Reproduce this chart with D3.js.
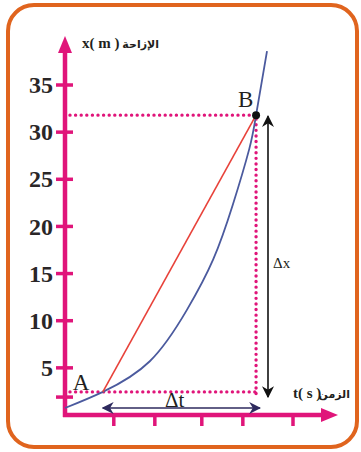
<!DOCTYPE html>
<html>
<head>
<meta charset="utf-8">
<script src="https://cdn.jsdelivr.net/npm/d3@7"></script>
<style>
  body { margin: 0; background: #fff; }
  svg { display: block; }
</style>
</head>
<body>
<div id="chart"></div>
<script>
// values
var yTicks = [5, 10, 15, 20, 25, 30, 35];
var yExtraTick = [1.9];
var tTicks = [1.07, 1.97, 3.0, 3.9, 5.0];
var curveT = [0, 0.83, 1.86, 2.68, 3.25, 3.68, 4.04, 4.19, 4.43];
var curveX = [0.74, 2.45, 5.7, 11.2, 16.5, 22.3, 28.2, 31.8, 38.6];
var pointA = { name: "A", t: 0.83, x: 2.45 };
var pointB = { name: "B", t: 4.19, x: 31.8 };

var width = 361, height = 452;
var pink = "#e0157a", blue = "#4b5a9e", red = "#e8423a", ink = "#231f20";

var svg = d3.select("#chart").append("svg")
  .attr("width", width)
  .attr("height", height);

// frame
svg.append("rect")
  .attr("x", 8).attr("y", 5)
  .attr("width", 349).attr("height", 442)
  .attr("rx", 26).attr("ry", 26)
  .attr("fill", "none")
  .attr("stroke", "#e0641e")
  .attr("stroke-width", 4);

var x = d3.scaleLinear().domain([0, 5]).range([65, 293]);
var y = d3.scaleLinear().domain([0, 35]).range([415, 85]);

// dotted guides
function dotted(x1, y1, x2, y2) {
  svg.append("line")
    .attr("x1", x1).attr("y1", y1).attr("x2", x2).attr("y2", y2)
    .attr("stroke", pink)
    .attr("stroke-width", 3.4)
    .attr("stroke-linecap", "round")
    .attr("stroke-dasharray", "0 5.6");
}
dotted(70, y(pointB.x), x(pointB.t), y(pointB.x));
dotted(x(pointB.t), y(pointB.x) + 4, x(pointB.t), 398);
dotted(70, y(pointA.x), x(pointB.t), y(pointA.x));

// axes
svg.append("line")
  .attr("x1", x(0)).attr("y1", 417).attr("x2", x(0)).attr("y2", 50)
  .attr("stroke", pink).attr("stroke-width", 4.5);
svg.append("path")
  .attr("d", "M" + x(0) + ",36 L" + (x(0) + 7) + ",53 L" + (x(0) - 7) + ",53 Z")
  .attr("fill", pink);
svg.append("line")
  .attr("x1", x(0) - 2).attr("y1", y(0)).attr("x2", 324).attr("y2", y(0))
  .attr("stroke", pink).attr("stroke-width", 4.5);
svg.append("path")
  .attr("d", "M338," + y(0) + " L321," + (y(0) - 7) + " L321," + (y(0) + 7) + " Z")
  .attr("fill", pink);

var yAxis = d3.axisLeft(y).tickValues(yTicks).tickSize(0).tickPadding(12);
var gy = svg.append("g")
  .attr("transform", "translate(" + x(0) + ",0)")
  .call(yAxis);
gy.select(".domain").remove();
gy.selectAll(".tick text")
  .attr("font-family", "Liberation Serif")
  .attr("font-size", 24)
  .attr("font-weight", "bold")
  .attr("fill", "#2a2627");

svg.selectAll(".ytick")
  .data(yTicks.concat(yExtraTick))
  .enter().append("line")
  .attr("x1", x(0) - 9).attr("x2", x(0) + 8)
  .attr("y1", function(d) { return y(d); })
  .attr("y2", function(d) { return y(d); })
  .attr("stroke", pink).attr("stroke-width", 3.5);

svg.selectAll(".ttick")
  .data(tTicks)
  .enter().append("line")
  .attr("x1", function(d) { return x(d); })
  .attr("x2", function(d) { return x(d); })
  .attr("y1", y(0)).attr("y2", y(0) + 11)
  .attr("stroke", pink).attr("stroke-width", 3.5);

// curve and chord
var line = d3.line()
  .x(function(d) { return x(d[0]); })
  .y(function(d) { return y(d[1]); })
  .curve(d3.curveNatural);
svg.append("path")
  .datum(d3.zip(curveT, curveX))
  .attr("d", line)
  .attr("fill", "none")
  .attr("stroke", blue)
  .attr("stroke-width", 1.8);
svg.append("line")
  .attr("x1", x(pointA.t)).attr("y1", y(pointA.x))
  .attr("x2", x(pointB.t)).attr("y2", y(pointB.x))
  .attr("stroke", red).attr("stroke-width", 1.6);

svg.append("circle")
  .attr("cx", x(pointB.t)).attr("cy", y(pointB.x))
  .attr("r", 4).attr("fill", "#111");

svg.append("text")
  .attr("x", x(pointB.t) - 18).attr("y", y(pointB.x) - 8)
  .attr("font-family", "Liberation Serif").attr("font-size", 23)
  .attr("fill", ink).text(pointB.name);
svg.append("text")
  .attr("x", x(pointA.t) - 30).attr("y", y(pointA.x) - 2)
  .attr("font-family", "Liberation Serif").attr("font-size", 23)
  .attr("fill", ink).text(pointA.name);

// arrows for delta x and delta t
var defs = svg.append("defs");
function head(id, color) {
  defs.append("marker")
    .attr("id", id)
    .attr("viewBox", "0 0 10 10")
    .attr("refX", 9).attr("refY", 5)
    .attr("markerWidth", 12).attr("markerHeight", 14)
    .attr("markerUnits", "userSpaceOnUse")
    .attr("orient", "auto-start-reverse")
    .append("path")
    .attr("d", "M0,0 L10,5 L0,10 L3,5 Z")
    .attr("fill", color);
}
head("hk", "#111");
head("hn", "#2e2a5e");

svg.append("line")
  .attr("x1", 268).attr("y1", 397).attr("x2", 268).attr("y2", y(pointB.x) + 1)
  .attr("stroke", "#111").attr("stroke-width", 1.6)
  .attr("marker-start", "url(#hk)").attr("marker-end", "url(#hk)");

svg.append("line")
  .attr("x1", x(pointA.t)).attr("y1", 408).attr("x2", 260).attr("y2", 408)
  .attr("stroke", "#2e2a5e").attr("stroke-width", 1.6)
  .attr("marker-start", "url(#hn)").attr("marker-end", "url(#hn)");

svg.append("text")
  .attr("x", 273).attr("y", 268)
  .attr("font-family", "Liberation Serif").attr("font-size", 15)
  .attr("fill", ink).text("Δx");
svg.append("text")
  .attr("x", 165).attr("y", 407)
  .attr("font-family", "Liberation Serif").attr("font-size", 21)
  .attr("fill", ink).text("Δt");

// axis titles
svg.append("text")
  .attr("x", 82).attr("y", 48)
  .attr("font-family", "Liberation Serif").attr("font-size", 15)
  .attr("font-weight", "bold").attr("fill", ink)
  .text("x( m )");
svg.append("text")
  .attr("x", 159).attr("y", 48)
  .attr("text-anchor", "end")
  .attr("font-family", "DejaVu Sans").attr("font-size", 11)
  .attr("font-weight", "bold").attr("fill", ink)
  .text("الإزاحة");
svg.append("text")
  .attr("x", 293).attr("y", 398)
  .attr("font-family", "Liberation Serif").attr("font-size", 15)
  .attr("font-weight", "bold").attr("fill", ink)
  .text("t( s )");
svg.append("text")
  .attr("x", 350).attr("y", 398)
  .attr("text-anchor", "end")
  .attr("font-family", "DejaVu Sans").attr("font-size", 11)
  .attr("font-weight", "bold").attr("fill", ink)
  .text("الزمن");
</script>
</body>
</html>
